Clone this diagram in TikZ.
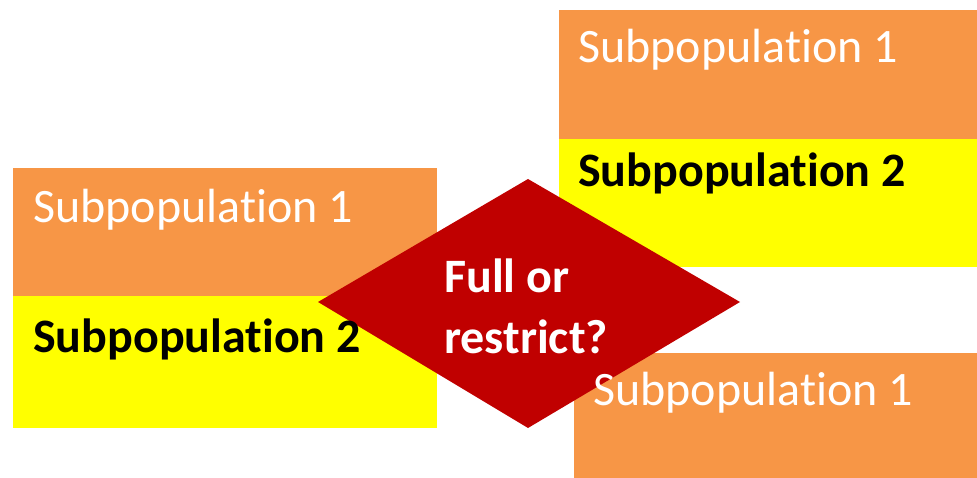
\documentclass[tikz,border=0pt]{standalone}
\usepackage{fontspec}
\setmainfont{Carlito}[Ligatures={NoCommon,NoContextual}]
\definecolor{subA}{HTML}{F79646}
\definecolor{subB}{HTML}{FFFF00}
\definecolor{decide}{HTML}{C00000}
\begin{document}
\begin{tikzpicture}[x=1pt,y=-1pt,
  popbox/.style={rectangle,draw=none,inner sep=0pt,anchor=north west},
  lbl/.style={anchor=base west,inner sep=0pt,font=\fontsize{48}{58}\selectfont},
  lblA/.style={lbl,text=white},
  lblB/.style={lbl,text=black,font=\fontsize{48}{58}\selectfont\bfseries},
  lblD/.style={lbl,text=white,font=\fontsize{48}{58}\selectfont\bfseries}]
\useasboundingbox (0,0) rectangle (977,478);
% left pair of subpopulations
\node[popbox,fill=subA,minimum width=424pt,minimum height=128pt] (l1) at (13,168) {};
\node[popbox,fill=subB,minimum width=424pt,minimum height=132pt] (l2) at (13,296) {};
% upper right pair
\node[popbox,fill=subA,minimum width=418pt,minimum height=129pt] (r1) at (559,10) {};
\node[popbox,fill=subB,minimum width=418pt,minimum height=128pt] (r2) at (559,139) {};
% lower right single subpopulation
\node[popbox,fill=subA,minimum width=403pt,minimum height=125pt] (s1) at (574,353) {};
% decision diamond
\coordinate (dt) at (528,179);
\coordinate (dr) at (740,302);
\coordinate (db) at (528,428);
\coordinate (dl) at (318,302);
\fill[decide] (dt) -- (dr) -- (db) -- (dl) -- cycle;
% labels
\node[lblA] (l1t) at (33,223) {Subpopulation 1};
\node[lblB] (l2t) at (33,352) {Subpopulation 2};
\node[lblA] (r1t) at (578,63) {Subpopulation 1};
\node[lblB] (r2t) at (578,187) {Subpopulation 2};
\node[lblA] (s1t) at (593,405) {Subpopulation 1};
\node[lblD] (dq1) at (444,293) {Full or};
\node[lblD] (dq2) at (444,353) {restrict?};
\end{tikzpicture}
\end{document}
